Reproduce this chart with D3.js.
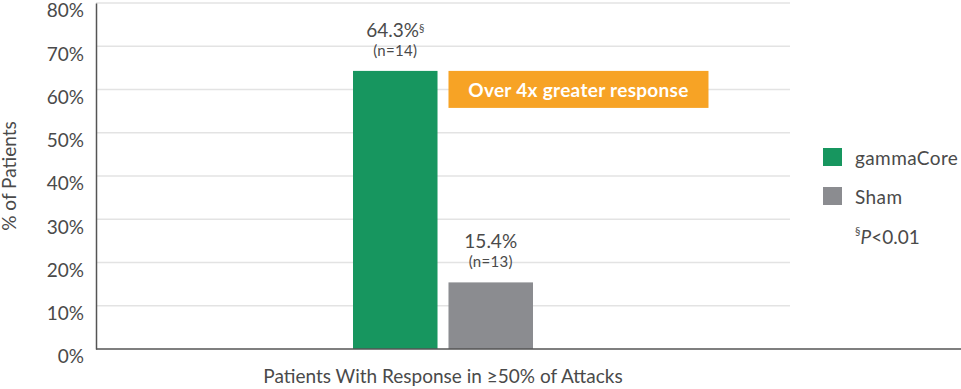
<!DOCTYPE html>
<html>
<head>
<meta charset="utf-8">
<script src="https://cdn.jsdelivr.net/npm/d3@7"></script>
<style>
  body { margin: 0; background: #fff; }
  svg text { font-family: Lato, "Open Sans", sans-serif; fill: #4a4a4a; }
</style>
</head>
<body>
<div id="chart"></div>
<script>
// Data
const categories = ["Patients With Response in \u226550% of Attacks"];
const seriesNames = ["gammaCore", "Sham"];
const seriesValues = [64.3, 15.4];
const seriesN = ["(n=14)", "(n=13)"];
const seriesMarks = ["\u00a7", ""];
const yTicks = [0, 10, 20, 30, 40, 50, 60, 70, 80];
const colors = ["#17965f", "#8b8c90"];

const width = 961, height = 389;
const margin = { top: 3, right: 171, bottom: 40, left: 96 };
const plotW = width - margin.left - margin.right;
const plotH = height - margin.top - margin.bottom;

const svg = d3.select("#chart").append("svg")
    .attr("width", width)
    .attr("height", height);

const g = svg.append("g")
    .attr("transform", "translate(" + margin.left + "," + margin.top + ")");

const y = d3.scaleLinear().domain([0, 80]).range([plotH, 0]);

const x0 = d3.scaleBand()
    .domain(categories)
    .range([0, plotW])
    .paddingInner(0)
    .paddingOuter(1.428);

const x1 = d3.scaleBand()
    .domain(seriesNames)
    .range([0, x0.bandwidth()])
    .paddingInner(0.115);

// Gridlines
g.append("g")
    .selectAll("line")
    .data(yTicks.filter(d => d > 0))
  .enter().append("line")
    .attr("x1", 0)
    .attr("x2", plotW)
    .attr("y1", d => y(d))
    .attr("y2", d => y(d))
    .attr("stroke", "#e3e3e3")
    .attr("stroke-width", 1.5);

// Y axis (labels sit a bit below their tick)
const yAxis = g.append("g")
    .call(d3.axisLeft(y).tickValues(yTicks).tickSize(0).tickPadding(12).tickFormat(d => d + "%"));
yAxis.select(".domain").attr("stroke", "#555").attr("stroke-width", 1.5);
yAxis.selectAll("text")
    .style("font-size", "19px")
    .attr("y", 7)
    .attr("dy", "0.36em");

// Y axis title
svg.append("text")
    .attr("transform", "rotate(-90)")
    .attr("x", -176)
    .attr("y", 16)
    .attr("text-anchor", "middle")
    .style("font-size", "19px")
    .text("% of Patients");

// Bars
const group = g.append("g")
    .attr("transform", "translate(" + x0(categories[0]) + ",0)");

group.selectAll("rect")
    .data(seriesNames)
  .enter().append("rect")
    .attr("x", d => x1(d))
    .attr("y", (d, i) => y(seriesValues[i]))
    .attr("width", x1.bandwidth())
    .attr("height", (d, i) => plotH - y(seriesValues[i]))
    .attr("fill", (d, i) => colors[i]);

// Value labels
const labels = group.selectAll(".val")
    .data(seriesNames)
  .enter().append("text")
    .attr("class", "val")
    .attr("x", d => x1(d) + x1.bandwidth() / 2)
    .attr("y", (d, i) => y(seriesValues[i]) - 34)
    .attr("text-anchor", "middle")
    .style("font-size", "19px");
labels.append("tspan").text((d, i) => seriesValues[i].toFixed(1) + "%");
labels.append("tspan")
    .attr("dy", "-0.45em")
    .style("font-size", "11px")
    .text((d, i) => seriesMarks[i]);

group.selectAll(".n")
    .data(seriesNames)
  .enter().append("text")
    .attr("class", "n")
    .attr("x", d => x1(d) + x1.bandwidth() / 2)
    .attr("y", (d, i) => y(seriesValues[i]) - 15)
    .attr("text-anchor", "middle")
    .style("font-size", "15px")
    .style("letter-spacing", "0.3px")
    .text((d, i) => seriesN[i]);

// Callout box
const boxX = x1("Sham");
const boxW = 260;
group.append("rect")
    .attr("x", boxX)
    .attr("y", y(seriesValues[0]))
    .attr("width", boxW)
    .attr("height", 37)
    .attr("fill", "#f7a325");
group.append("text")
    .attr("x", boxX + boxW / 2)
    .attr("y", y(seriesValues[0]) + 26)
    .attr("text-anchor", "middle")
    .style("font-size", "19px")
    .style("font-weight", "bold")
    .style("letter-spacing", "0.3px")
    .style("fill", "#fff")
    .text("Over 4x greater response");

// X axis line (runs to page edge)
svg.append("line")
    .attr("x1", margin.left)
    .attr("x2", width)
    .attr("y1", margin.top + plotH)
    .attr("y2", margin.top + plotH)
    .attr("stroke", "#555")
    .attr("stroke-width", 1.5);

// X axis label
svg.append("text")
    .attr("x", margin.left + x0(categories[0]) + x0.bandwidth() / 2)
    .attr("y", 383)
    .attr("text-anchor", "middle")
    .style("font-size", "19px")
    .text(categories[0]);

// Legend
const legend = svg.append("g").attr("transform", "translate(823,148)");
const item = legend.selectAll("g")
    .data(seriesNames)
  .enter().append("g")
    .attr("transform", (d, i) => "translate(0," + i * 39 + ")");
item.append("rect")
    .attr("width", 19)
    .attr("height", 18)
    .attr("fill", (d, i) => colors[i]);
item.append("text")
    .attr("x", 32)
    .attr("y", 17)
    .style("font-size", "19px")
    .style("letter-spacing", "0.4px")
    .text(d => d);

const pNote = legend.append("text")
    .attr("x", 32)
    .attr("y", 92)
    .style("font-size", "19px");
pNote.append("tspan").attr("dy", "-0.45em").style("font-size", "11px").text("\u00a7");
pNote.append("tspan").attr("dy", "0.45em").style("font-style", "italic").text("P");
pNote.append("tspan").text("<0.01");
</script>
</body>
</html>
